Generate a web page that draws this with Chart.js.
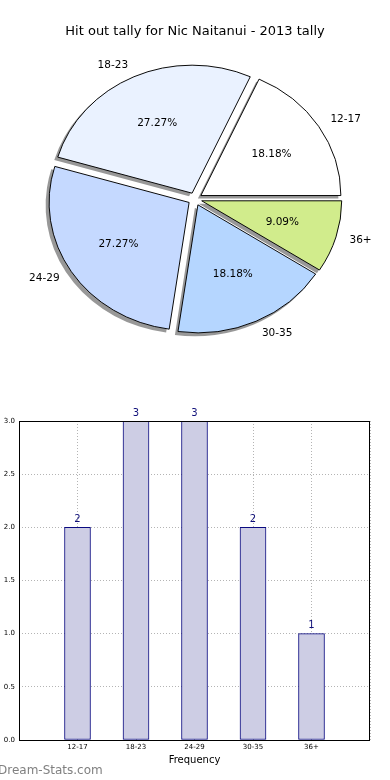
<!DOCTYPE html>
<html>
<head>
<meta charset="utf-8">
<script src="https://cdn.jsdelivr.net/npm/chart.js@4.4.0/dist/chart.umd.min.js"></script>
<style>
  body { margin: 0; background: #fff; width: 390px; height: 780px; overflow: hidden; position: relative; font-family: "DejaVu Sans", sans-serif; }
  #pieWrap { position: absolute; left: 0; top: 0; width: 390px; height: 390px; }
  #barWrap { position: absolute; left: 0; top: 390px; width: 390px; height: 390px; }
  #mark { position: absolute; left: -2px; top: 763px; font-size: 12px; color: #808080; }
</style>
</head>
<body>
<div id="pieWrap"><canvas id="pieChart"></canvas></div>
<div id="barWrap"><canvas id="barChart"></canvas></div>
<div id="mark">Dream-Stats.com</div>
<script>
const chartTitle = "Hit out tally for Nic Naitanui - 2013 tally";
const ageGroups = ["12-17", "18-23", "24-29", "30-35", "36+"];
const hitOuts = [2, 3, 3, 2, 1];
const sliceColors = ["#ffffff", "#eaf2ff", "#c5d9ff", "#b5d6ff", "#d1ec8c"];
const xAxisTitle = "Frequency";

const font = "DejaVu Sans";
const squash = 128 / 140;  // matplotlib pie without equal aspect -> ellipse
const explode = 0.05;
const total = hitOuts.reduce((a, b) => a + b, 0);

// chart.js goes clockwise, matplotlib counter-clockwise, so feed it reversed
const pieLabels = ageGroups.slice().reverse();
const pieValues = hitOuts.slice().reverse();
const pieColors = sliceColors.slice().reverse();

function squashAround(ctx, arc) {
  ctx.translate(arc.x, arc.y);
  ctx.scale(1, squash);
  ctx.translate(-arc.x, -arc.y);
}

function pushOut(ctx, arc) {
  const mid = (arc.startAngle + arc.endAngle) / 2;
  const d = arc.outerRadius * explode;
  ctx.translate(Math.cos(mid) * d, Math.sin(mid) * d);
}

const pieExtras = {
  id: "pieExtras",
  beforeDatasetsDraw(chart) {
    const arcs = chart.getDatasetMeta(0).data;
    const ctx = chart.ctx;
    // drop shadows first, under every wedge
    arcs.forEach(arc => {
      ctx.save();
      ctx.translate(-3, 3);
      squashAround(ctx, arc);
      pushOut(ctx, arc);
      ctx.fillStyle = "rgba(50,50,50,0.5)";
      ctx.beginPath();
      ctx.moveTo(arc.x, arc.y);
      ctx.arc(arc.x, arc.y, arc.outerRadius + 0.5, arc.startAngle, arc.endAngle);
      ctx.closePath();
      ctx.fill();
      ctx.restore();
    });
    // exploded wedges
    arcs.forEach(arc => {
      ctx.save();
      squashAround(ctx, arc);
      pushOut(ctx, arc);
      arc.draw(ctx);
      ctx.restore();
    });
    return false;
  },
  afterDraw(chart) {
    const ctx = chart.ctx;
    const meta = chart.getDatasetMeta(0);
    ctx.save();
    ctx.fillStyle = "#000";
    ctx.font = "10.5px '" + font + "'";
    ctx.textBaseline = "middle";
    meta.data.forEach((arc, i) => {
      const mid = (arc.startAngle + arc.endAngle) / 2;
      const r = arc.outerRadius;
      const c = Math.cos(mid), s = Math.sin(mid);
      ctx.textAlign = c >= 0 ? "left" : "right";
      ctx.fillText(chart.data.labels[i], arc.x + c * r * (1.1 + explode), arc.y + s * r * (1.1 + explode) * squash);
      ctx.textAlign = "center";
      const pct = (pieValues[i] / total * 100).toFixed(2) + "%";
      ctx.fillText(pct, arc.x + c * r * (0.6 + explode), arc.y + s * r * (0.6 + explode) * squash);
    });
    ctx.restore();
  }
};

new Chart(document.getElementById("pieChart"), {
  type: "pie",
  data: {
    labels: pieLabels,
    datasets: [{
      data: pieValues,
      backgroundColor: pieColors,
      borderColor: "#000",
      borderWidth: 1
    }]
  },
  options: {
    responsive: true,
    maintainAspectRatio: false,
    animation: false,
    events: [],
    rotation: 90,
    radius: 140,
    layout: { padding: { top: 0, bottom: 39.6, left: 0, right: 0 } },
    plugins: {
      legend: { display: false },
      tooltip: { enabled: false },
      title: {
        display: true,
        text: chartTitle,
        color: "#000",
        font: { family: font, size: 13, weight: "normal", lineHeight: 1.2 },
        padding: { top: 24, bottom: 8 }
      }
    }
  },
  plugins: [pieExtras]
});

const barExtras = {
  id: "barExtras",
  afterDraw(chart) {
    const ctx = chart.ctx;
    const a = chart.chartArea;
    ctx.save();
    ctx.strokeStyle = "#000";
    ctx.lineWidth = 1;
    ctx.strokeRect(Math.round(a.left) + 0.5, Math.round(a.top) + 0.5, Math.round(a.right - a.left) - 1, Math.round(a.bottom - a.top));
    ctx.fillStyle = "#10107a";
    ctx.font = "10px '" + font + "'";
    ctx.textAlign = "center";
    ctx.textBaseline = "bottom";
    chart.getDatasetMeta(0).data.forEach((bar, i) => {
      ctx.fillText(String(hitOuts[i]), bar.x, bar.y - 3);
    });
    ctx.restore();
  }
};

new Chart(document.getElementById("barChart"), {
  type: "bar",
  data: {
    datasets: [{
      data: ageGroups.map((g, i) => ({ x: i, y: hitOuts[i] })),
      backgroundColor: "#cdcde4",
      borderColor: "#0a0a80",
      borderWidth: 1,
      borderSkipped: false,
      barThickness: 26
    }]
  },
  options: {
    responsive: true,
    maintainAspectRatio: false,
    animation: false,
    events: [],
    layout: { padding: { top: 31, right: 20, left: 0, bottom: 0 } },
    plugins: { legend: { display: false }, tooltip: { enabled: false } },
    scales: {
      x: {
        type: "linear",
        min: -1,
        max: 5,
        offset: false,
        z: 1,
        afterFit(s) { s.height = 40; },
        ticks: {
          stepSize: 1,
          autoSkip: false,
          maxRotation: 0,
          padding: 3,
          color: "#000",
          font: { family: font, size: 7 },
          callback: v => ageGroups[v] ?? ""
        },
        grid: { offset: false, color: "#b4b4b4", drawTicks: false },
        border: { display: false, dash: [1, 2] },
        title: {
          display: true,
          text: xAxisTitle,
          color: "#000",
          font: { family: font, size: 10 },
          padding: { top: 0, bottom: 14 }
        }
      },
      y: {
        min: 0,
        max: 3,
        z: 1,
        afterFit(s) { s.width = 19; },
        ticks: {
          stepSize: 0.5,
          padding: 4,
          color: "#000",
          font: { family: font, size: 7 },
          callback: v => v.toFixed(1)
        },
        grid: { color: "#b4b4b4", drawTicks: false },
        border: { display: false, dash: [1, 2] }
      }
    }
  },
  plugins: [barExtras]
});
</script>
</body>
</html>
